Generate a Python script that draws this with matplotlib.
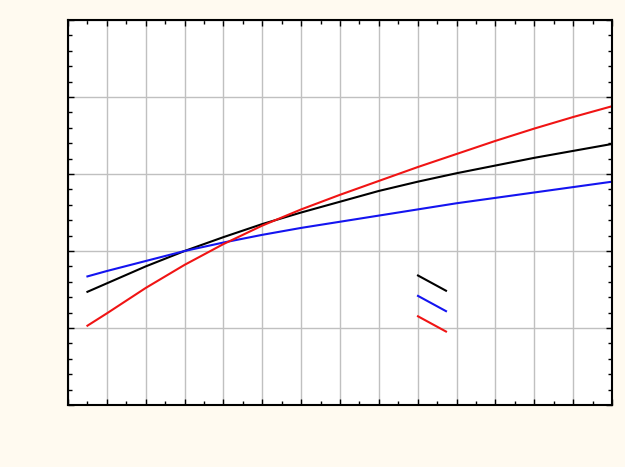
import matplotlib
matplotlib.use("Agg")
import matplotlib.pyplot as plt
from matplotlib.lines import Line2D
from matplotlib.legend_handler import HandlerBase
from matplotlib.ticker import MultipleLocator, NullFormatter

x = [0.5, 1, 2, 3, 4, 5, 6, 7, 8, 9, 10, 11, 12, 13, 14]
black_vals = [1.47, 1.58, 1.80, 2.00, 2.18, 2.35, 2.50, 2.64, 2.78, 2.90, 3.01, 3.11, 3.21, 3.30, 3.39]
blue_vals = [1.67, 1.74, 1.87, 2.00, 2.11, 2.21, 2.30, 2.38, 2.46, 2.54, 2.62, 2.69, 2.76, 2.83, 2.90]
red_vals = [1.03, 1.19, 1.52, 1.82, 2.09, 2.33, 2.54, 2.73, 2.91, 3.09, 3.26, 3.43, 3.59, 3.74, 3.88]
series_labels = ["", "", ""]

BG = "#FFFAF0"


class DiagHandler(HandlerBase):
    def create_artists(self, legend, orig_handle, xdescent, ydescent,
                       width, height, fontsize, trans):
        ln = Line2D([-xdescent, -xdescent + width],
                    [-ydescent + height, -ydescent],
                    color=orig_handle.get_color(),
                    linewidth=orig_handle.get_linewidth(),
                    transform=trans)
        return [ln]


fig = plt.figure(figsize=(6.25, 4.67), dpi=100, facecolor=BG)
ax = fig.add_axes([68 / 625, 1 - 405 / 467, 544 / 625, 385 / 467])
ax.set_facecolor("white")

l1, = ax.plot(x, black_vals, color="black", lw=1.5, label=series_labels[0])
l2, = ax.plot(x, blue_vals, color="#1414F0", lw=1.5, label=series_labels[1])
l3, = ax.plot(x, red_vals, color="#F01414", lw=1.5, label=series_labels[2])

ax.set_xlim(0, 14)
ax.set_ylim(0, 5)
ax.xaxis.set_major_locator(MultipleLocator(1))
ax.xaxis.set_minor_locator(MultipleLocator(0.5))
ax.yaxis.set_major_locator(MultipleLocator(1))
ax.yaxis.set_minor_locator(MultipleLocator(0.2))
ax.xaxis.set_major_formatter(NullFormatter())
ax.yaxis.set_major_formatter(NullFormatter())
ax.grid(True, which="major", color="#C0C0C0", lw=1)
ax.set_axisbelow(True)
ax.tick_params(which="both", direction="in", top=True, right=True,
               color="black", width=1)
ax.tick_params(which="major", length=4)
ax.tick_params(which="minor", length=3)
for s in ax.spines.values():
    s.set_linewidth(1.5)
    s.set_color("black")

fs = 10
px = fs * 100 / 72
leg = ax.legend(handles=[l1, l2, l3], labels=series_labels,
                handler_map={Line2D: DiagHandler()},
                loc="upper left",
                bbox_to_anchor=(418 / 625, 1 - 275.5 / 467),
                bbox_transform=fig.transFigure,
                frameon=False, fontsize=fs,
                handlelength=28 / px, handleheight=18.2 / px,
                labelspacing=0.37, handletextpad=0, borderpad=0,
                borderaxespad=0)

fig.savefig("out.png", dpi=100, facecolor=BG)
